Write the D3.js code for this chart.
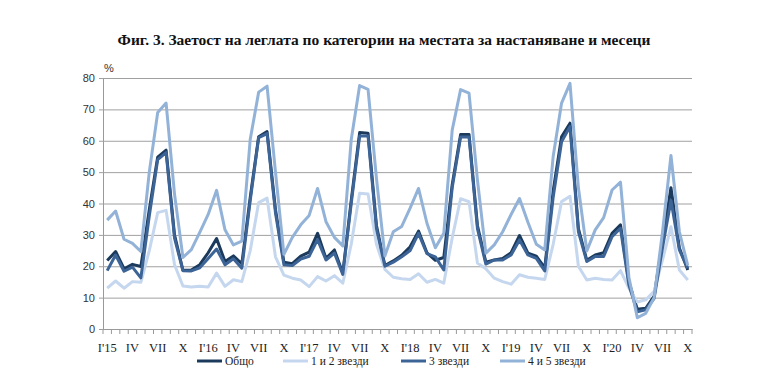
<!DOCTYPE html>
<html>
<head>
<meta charset="utf-8">
<script src="https://cdn.jsdelivr.net/npm/d3@7"></script>
<style>
  body { margin: 0; background: #fff; }
  svg { display: block; }
  .serif { font-family: "Liberation Serif", "Times New Roman", serif; }
</style>
</head>
<body>
<div id="chart"></div>
<script>
// months Jan 2015 .. Oct 2020
const years = ['15', '16', '17', '18', '19', '20'];
const roman = ['I', 'II', 'III', 'IV', 'V', 'VI', 'VII', 'VIII', 'IX', 'X', 'XI', 'XII'];
const monthLabels = [];
years.forEach(y => roman.forEach(m => monthLabels.push(m === 'I' ? "I'" + y : m)));
monthLabels.length = 70;

const seriesNames = ['Общо', '1 и 2 звезди', '3 звезди', '4 и 5 звезди'];
const seriesColors = ['#1b3a5c', '#c5d7ee', '#3d6496', '#93b2d8'];

const total = [
  21.8, 24.7, 19.2, 20.6, 19.9, 38.0, 54.8, 57.0, 30.0, 18.7, 18.8, 20.5,
  24.3, 28.8, 21.5, 23.3, 20.8, 42.0, 61.3, 62.9, 38.0, 21.3, 20.8, 23.2,
  24.5, 30.5, 22.5, 25.2, 17.8, 41.0, 62.6, 62.4, 33.0, 20.2, 21.7, 23.5,
  26.2, 31.2, 24.3, 21.9, 22.8, 46.0, 62.0, 62.0, 33.0, 21.3, 22.0, 22.5,
  24.3, 29.8, 24.2, 23.2, 19.5, 44.0, 61.3, 65.6, 32.0, 21.9, 23.6, 24.3,
  30.5, 33.2, 15.0, 6.3, 6.6, 10.5, 28.0, 45.0, 25.8, 18.8
];
const stars12 = [
  13.0, 15.3, 13.0, 15.1, 14.9, 25.0, 37.1, 37.8, 20.5, 13.7, 13.4, 13.6,
  13.4, 17.8, 13.6, 15.7, 15.1, 25.0, 40.3, 41.7, 23.0, 17.2, 16.2, 15.6,
  13.5, 16.7, 15.3, 17.0, 14.6, 27.0, 43.3, 43.0, 27.0, 19.0, 16.5, 16.0,
  15.8, 17.6, 14.9, 15.8, 14.6, 29.0, 41.5, 40.6, 21.0, 19.2, 16.2, 15.1,
  14.3, 17.3, 16.5, 16.2, 15.8, 27.0, 40.6, 42.3, 20.0, 15.6, 16.2, 15.8,
  15.6, 18.6, 13.0, 8.6, 9.3, 12.0, 22.0, 32.6, 18.8, 15.6
];
const stars3 = [
  18.6, 23.6, 18.4, 19.7, 16.3, 36.0, 54.0, 56.2, 29.0, 18.6, 18.5, 19.5,
  22.5, 25.5, 20.5, 22.4, 19.4, 41.0, 61.0, 62.3, 37.0, 20.5, 20.2, 22.3,
  23.2, 28.5, 22.0, 24.2, 17.4, 40.0, 61.5, 61.5, 32.0, 20.0, 21.3, 23.0,
  25.0, 30.5, 24.0, 23.0, 18.8, 45.0, 61.2, 61.2, 32.0, 20.7, 22.0, 22.0,
  23.6, 28.4, 23.6, 22.5, 18.5, 42.0, 59.7, 64.5, 31.0, 21.5, 23.1, 23.1,
  29.4, 32.1, 14.0, 5.5, 6.1, 9.8, 26.0, 41.0, 25.2, 19.3
];
const stars45 = [
  34.7, 37.6, 28.6, 27.3, 24.7, 50.0, 69.0, 72.0, 43.0, 22.8, 25.3, 30.8,
  36.5, 44.2, 31.6, 26.8, 28.0, 60.5, 75.5, 77.4, 50.0, 23.8, 29.2, 33.2,
  36.2, 44.8, 34.2, 29.2, 26.5, 60.3, 77.6, 76.4, 48.0, 23.3, 31.0, 32.7,
  38.5, 44.8, 33.7, 25.9, 30.5, 63.4, 76.3, 75.2, 47.5, 24.2, 26.8, 31.0,
  36.5, 41.6, 34.0, 27.0, 25.2, 55.0, 72.0, 78.3, 45.0, 24.9, 31.6, 35.5,
  44.3, 46.8, 16.5, 3.6, 5.0, 10.0, 31.0, 55.3, 31.0, 20.2
];
const seriesValues = [total, stars12, stars3, stars45];
const yTicks = [0, 10, 20, 30, 40, 50, 60, 70, 80];

const W = 768, H = 387;
const plot = { left: 103, right: 692, top: 78, bottom: 329 };

const svg = d3.select('#chart').append('svg')
    .attr('width', W).attr('height', H);

const idx = d3.range(monthLabels.length);
const x = d3.scaleBand().domain(idx).range([plot.left, plot.right]).padding(0);
const xc = i => x(i) + x.bandwidth() / 2;
const y = d3.scaleLinear().domain([0, 80]).range([plot.bottom, plot.top]);

// title
svg.append('text')
    .attr('class', 'serif')
    .attr('x', 384).attr('y', 45)
    .attr('text-anchor', 'middle')
    .attr('font-size', 15.5).attr('font-weight', 'bold')
    .attr('fill', '#111')
    .text('Фиг. 3. Заетост на леглата по категории на местата за настаняване и месеци');

svg.append('text')
    .attr('x', 104).attr('y', 72)
    .attr('font-family', 'Liberation Sans, Arial, sans-serif')
    .attr('font-size', 11).attr('fill', '#333')
    .text('%');

// y axis + gridlines
const yAxis = svg.append('g')
    .attr('transform', `translate(${plot.left},0)`)
    .call(d3.axisLeft(y).tickValues(yTicks)
        .tickSize(-(plot.right - plot.left)).tickPadding(8))
    .attr('font-family', 'Liberation Sans, Arial, sans-serif')
    .attr('font-size', 11);
yAxis.select('.domain').attr('stroke', '#999');
yAxis.selectAll('.tick line').attr('stroke', '#a0a0a0').attr('x1', -4);
yAxis.selectAll('.tick text').attr('fill', '#333');

// x axis: labels every 3 months, ticks at category boundaries
const xAxis = svg.append('g')
    .attr('transform', `translate(0,${plot.bottom})`)
    .call(d3.axisBottom(x).tickValues(idx.filter(i => i % 3 === 0))
        .tickFormat(i => monthLabels[i])
        .tickSize(0).tickPadding(14))
    .attr('font-family', '"Liberation Serif", "Times New Roman", serif')
    .attr('font-size', 12.5);
xAxis.select('.domain').attr('stroke', '#999');
xAxis.selectAll('.tick text').attr('fill', '#222');
xAxis.selectAll('.boundary')
    .data(idx.concat([idx.length]))
    .join('line')
    .attr('class', 'boundary')
    .attr('x1', i => i < idx.length ? x(i) : plot.right)
    .attr('x2', i => i < idx.length ? x(i) : plot.right)
    .attr('y1', 0).attr('y2', 5)
    .attr('stroke', '#999');

// series lines
const line = d3.line()
    .x((v, i) => xc(i))
    .y(v => y(v));

svg.append('g').selectAll('path')
    .data(seriesValues)
    .join('path')
    .attr('d', line)
    .attr('fill', 'none')
    .attr('stroke', (d, i) => seriesColors[i])
    .attr('stroke-width', 3)
    .attr('stroke-linejoin', 'round');

// legend
const legendX = [197, 283, 401, 500];
const legend = svg.append('g').attr('class', 'serif');
const items = legend.selectAll('g')
    .data(seriesNames)
    .join('g')
    .attr('transform', (d, i) => `translate(${legendX[i]},361)`);
items.append('line')
    .attr('x1', 0).attr('x2', 25)
    .attr('stroke', (d, i) => seriesColors[i])
    .attr('stroke-width', 3);
items.append('text')
    .attr('x', 28).attr('y', 4)
    .attr('font-size', 11.5).attr('fill', '#222')
    .text(d => d);
</script>
</body>
</html>
